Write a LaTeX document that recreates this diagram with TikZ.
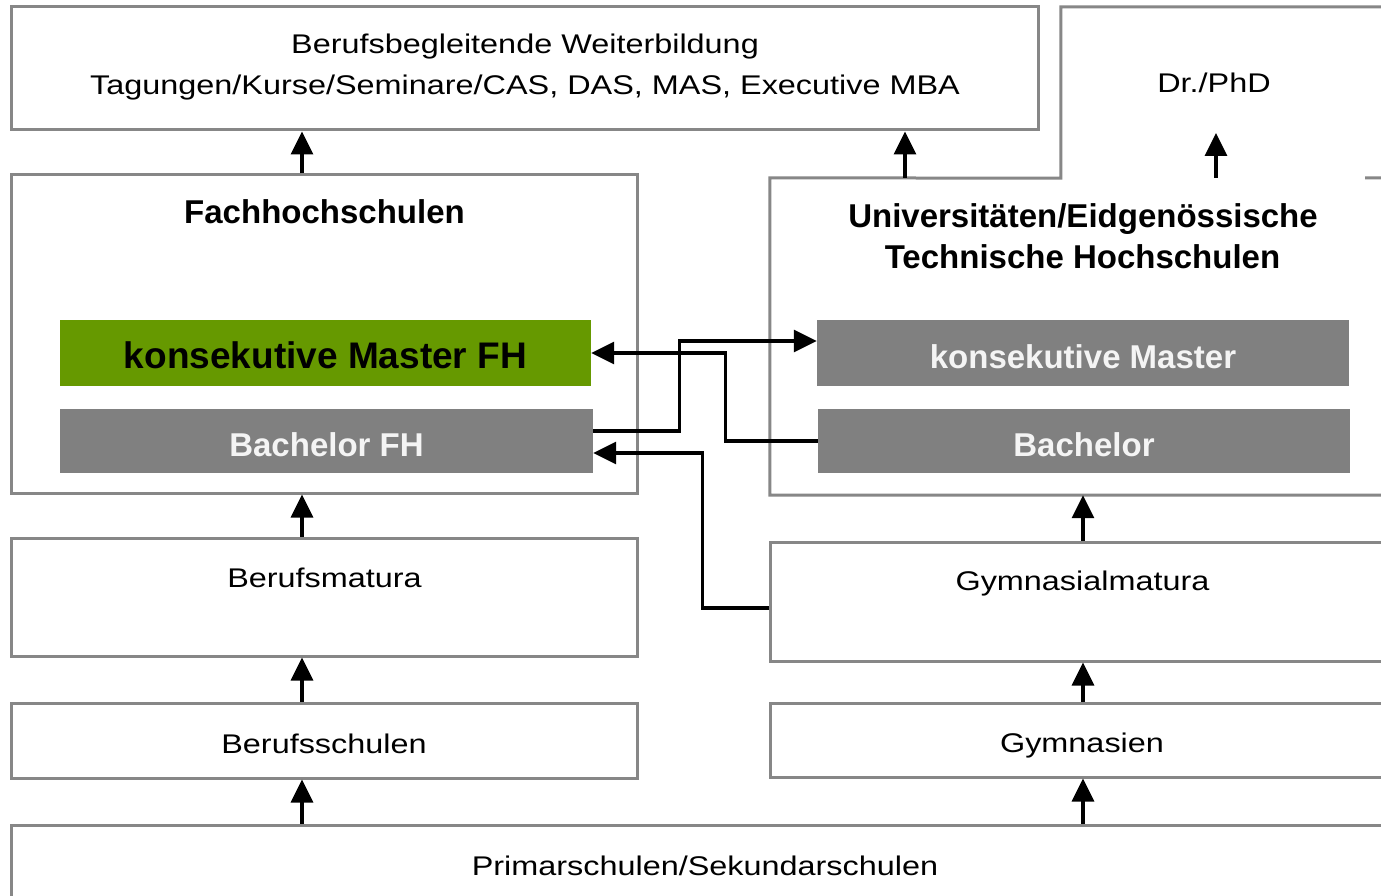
\documentclass[tikz,border=0pt]{standalone}
\usepackage{fontspec}
\setmainfont{Liberation Sans}
\newfontfamily\widef{Liberation Sans}[FakeStretch=1.2]
\usetikzlibrary{arrows.meta}
\definecolor{bordergray}{HTML}{878787}
\definecolor{fillgray}{HTML}{808080}
\definecolor{fhgreen}{HTML}{669900}
\definecolor{offwhite}{HTML}{F4F4F4}
\begin{document}
\begin{tikzpicture}[x=1pt,y=-1pt,
  box/.style={draw=bordergray,line width=3pt,fill=white,inner sep=0pt},
  region/.style={draw=none,inner sep=0pt},
  outline/.style={draw=bordergray,line width=3pt},
  gbox/.style={fill=fillgray,draw=none,inner sep=0pt,text=offwhite,
    font=\bfseries\fontsize{33}{40}\selectfont,text height=30.5pt,text depth=0pt},
  greenbox/.style={fill=fhgreen,draw=none,inner sep=0pt,text=black,
    font=\bfseries\fontsize{37}{44}\selectfont,text height=30.5pt,text depth=0pt},
  reg/.style={font=\widef\fontsize{27}{32}\selectfont,inner sep=0pt,anchor=base},
  bld/.style={font=\bfseries\fontsize{33}{40}\selectfont,inner sep=0pt,anchor=base},
  arr/.style={line width=3.3pt,-{Triangle[width=22pt,length=23pt]}},
  ]
\clip (0,0) rectangle (1381,896);
\useasboundingbox (0,0) rectangle (1381,896);
\fill[white] (0,0) rectangle (1381,896);

% helper x positions
\coordinate (xa) at (302,0);
\coordinate (xb) at (905,0);
\coordinate (xc) at (1216,0);
\coordinate (xd) at (1083,0);

% boxes
\node[box,minimum width=1027pt,minimum height=123pt] (top) at (524.5,68.5) {};
\node[region,minimum width=339pt,minimum height=171pt] (dr) at (1230.5,92.5) {};
\node[box,minimum width=626pt,minimum height=318pt] (fh) at (324,334) {};
\node[region,minimum width=630pt,minimum height=317pt] (uni) at (1085,336.5) {};
\draw[outline] (dr.north east) -- (dr.north west) -- (dr.south west)
  -- (uni.north west) -- (uni.south west) -- (uni.south east);
\draw[outline] (1365,178) -- (uni.north east);

\node[greenbox,minimum width=531pt,minimum height=66pt] (mfh) at (325.5,353) {konsekutive Master FH};
\node[gbox,minimum width=533pt,minimum height=64pt] (bfh) at (326.5,441) {Bachelor FH};
\node[gbox,minimum width=532pt,minimum height=66pt] (km) at (1083,353) {konsekutive Master};
\node[gbox,minimum width=532pt,minimum height=64pt] (bu) at (1084,441) {Bachelor};

\node[box,minimum width=626pt,minimum height=118pt] (bm) at (324,597) {};
\node[box,minimum width=630pt,minimum height=119pt] (gm) at (1085,601.5) {};
\node[box,minimum width=626pt,minimum height=75pt] (bs) at (324,740.5) {};
\node[box,minimum width=630pt,minimum height=74pt] (gy) at (1085,740) {};
\node[box,minimum width=1389pt,minimum height=95pt] (ps) at (705.5,872.5) {};

% texts
\node[reg] (t-top1) at (525,54) {Berufsbegleitende Weiterbildung};
\node[reg] (t-top2) at (525,95) {Tagungen/Kurse/Seminare/CAS, DAS, MAS, Executive MBA};
\node[reg] (t-dr) at (1214,93) {Dr./PhD};
\node[bld] (t-fh) at (324.5,223) {Fachhochschulen};
\node[bld] (t-uni1) at (1083,227) {Universitäten/Eidgenössische};
\node[bld] (t-uni2) at (1082.5,268) {Technische Hochschulen};
\node[reg] (t-bm) at (324.5,587) {Berufsmatura};
\node[reg] (t-gm) at (1082.5,590) {Gymnasialmatura};
\node[reg] (t-bs) at (324,753) {Berufsschulen};
\node[reg] (t-gy) at (1082,752) {Gymnasien};
\node[reg] (t-ps) at (705,875) {Primarschulen/Sekundarschulen};

\coordinate (drtip) at (1216,133);

% vertical arrows
\draw[arr] (fh.north -| xa) -- (top.south -| xa);
\draw[arr] (uni.north -| xb) -- (top.south -| xb);
\draw[arr] (uni.north -| xc) -- (drtip);
\draw[arr] (bm.north -| xa) -- (fh.south -| xa);
\draw[arr] (gm.north -| xd) -- (uni.south -| xd);
\draw[arr] (bs.north -| xa) -- (bm.south -| xa);
\draw[arr] (gy.north -| xd) -- (gm.south -| xd);
\draw[arr] (ps.north -| xa) -- (bs.south -| xa);
\draw[arr] (ps.north -| xd) -- (gy.south -| xd);

% crossing connectors
\draw[arr] ([yshift=10pt]bfh.east) -- ++(86,0) |- ([yshift=12pt]km.west);
\draw[arr] (bu.west) -- ++(-92,0) |- (mfh.east);
\draw[arr] ([yshift=-6.5pt]gm.west) -- ++(-66,0) |- ([yshift=-12pt]bfh.east);
\end{tikzpicture}
\end{document}
